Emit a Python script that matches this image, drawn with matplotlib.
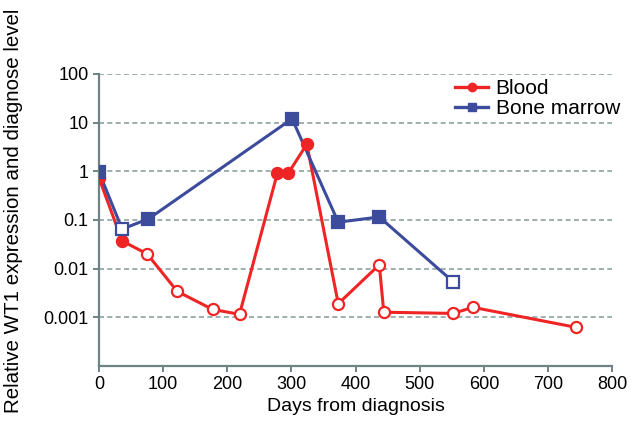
import matplotlib
matplotlib.use("Agg")
import matplotlib.pyplot as plt
from matplotlib.ticker import FixedLocator, FixedFormatter, NullLocator

plt.rcParams['font.family'] = ['Liberation Sans', 'DejaVu Sans']

# Blood
blood_days = [0, 36, 75, 122, 177, 219, 278, 295, 324, 373, 437, 444, 552, 583, 744]
blood_vals = [0.72, 0.037, 0.020, 0.0034, 0.00145, 0.00115, 0.91, 0.91, 3.6, 0.0019, 0.012, 0.00127, 0.0012, 0.0016, 0.00062]
blood_filled = [True, True, False, False, False, False, True, True, True, False, False, False, False, False, False]

# Bone marrow
bm_days = [0, 36, 77, 301, 373, 437, 552]
bm_vals = [0.95, 0.065, 0.105, 12, 0.09, 0.115, 0.0054]
bm_filled = [True, False, True, True, True, True, False]

y_ticks = [0.001, 0.01, 0.1, 1, 10, 100]
y_labels = ["0.001", "0.01", "0.1", "1", "10", "100"]
x_ticks = [0, 100, 200, 300, 400, 500, 600, 700, 800]

red = "#ee2524"
blue = "#3c4b9c"
spine_c = "#6d8384"
grid_c = "#8ea3a1"

fig = plt.figure(figsize=(6.31, 4.25), dpi=100)
ax = fig.add_axes([0.157, 0.139, 0.813, 0.687])

def draw(days, vals, filled, color, marker, ms, label):
    ax.plot(days, vals, color=color, lw=2.2, zorder=3)
    for d, v, f in zip(days, vals, filled):
        ax.plot([d], [v], marker=marker, ms=ms, mec=color, mew=1.6,
                mfc=color if f else "white", ls="none", zorder=4)
    ax.plot([], [], color=color, lw=2.4, marker=marker, ms=ms - 2, label=label)

draw(blood_days, blood_vals, blood_filled, red, "o", 8, "Blood")
draw(bm_days, bm_vals, bm_filled, blue, "s", 8, "Bone marrow")

ax.set_yscale("log")
ax.set_ylim(1e-4, 100)
ax.set_xlim(0, 800)
ax.yaxis.set_major_locator(FixedLocator(y_ticks))
ax.yaxis.set_major_formatter(FixedFormatter(y_labels))
ax.yaxis.set_minor_locator(NullLocator())
ax.set_xticks(x_ticks)

for y in y_ticks:
    ax.axhline(y, color=grid_c, ls=(0, (3, 2)), lw=1.2, zorder=1)

for s in ["top", "right"]:
    ax.spines[s].set_visible(False)
for s in ["left", "bottom"]:
    ax.spines[s].set_color(spine_c)
    ax.spines[s].set_linewidth(1.6)
ax.tick_params(axis="both", colors=spine_c, labelcolor="black", labelsize=13, length=4, width=1.4)

ax.set_xlabel("Days from diagnosis", fontsize=14, labelpad=3)
fig.text(0.022, 0.503, "Relative WT1 expression and diagnose level", rotation=90,
         ha="center", va="center", fontsize=14.8)

leg = ax.legend(loc="upper right", bbox_to_anchor=(1.04, 1.025), frameon=False, fontsize=15,
                handlelength=1.6, handletextpad=0.35, labelspacing=0.05, borderaxespad=0.2)

fig.savefig("out.png", dpi=100)
